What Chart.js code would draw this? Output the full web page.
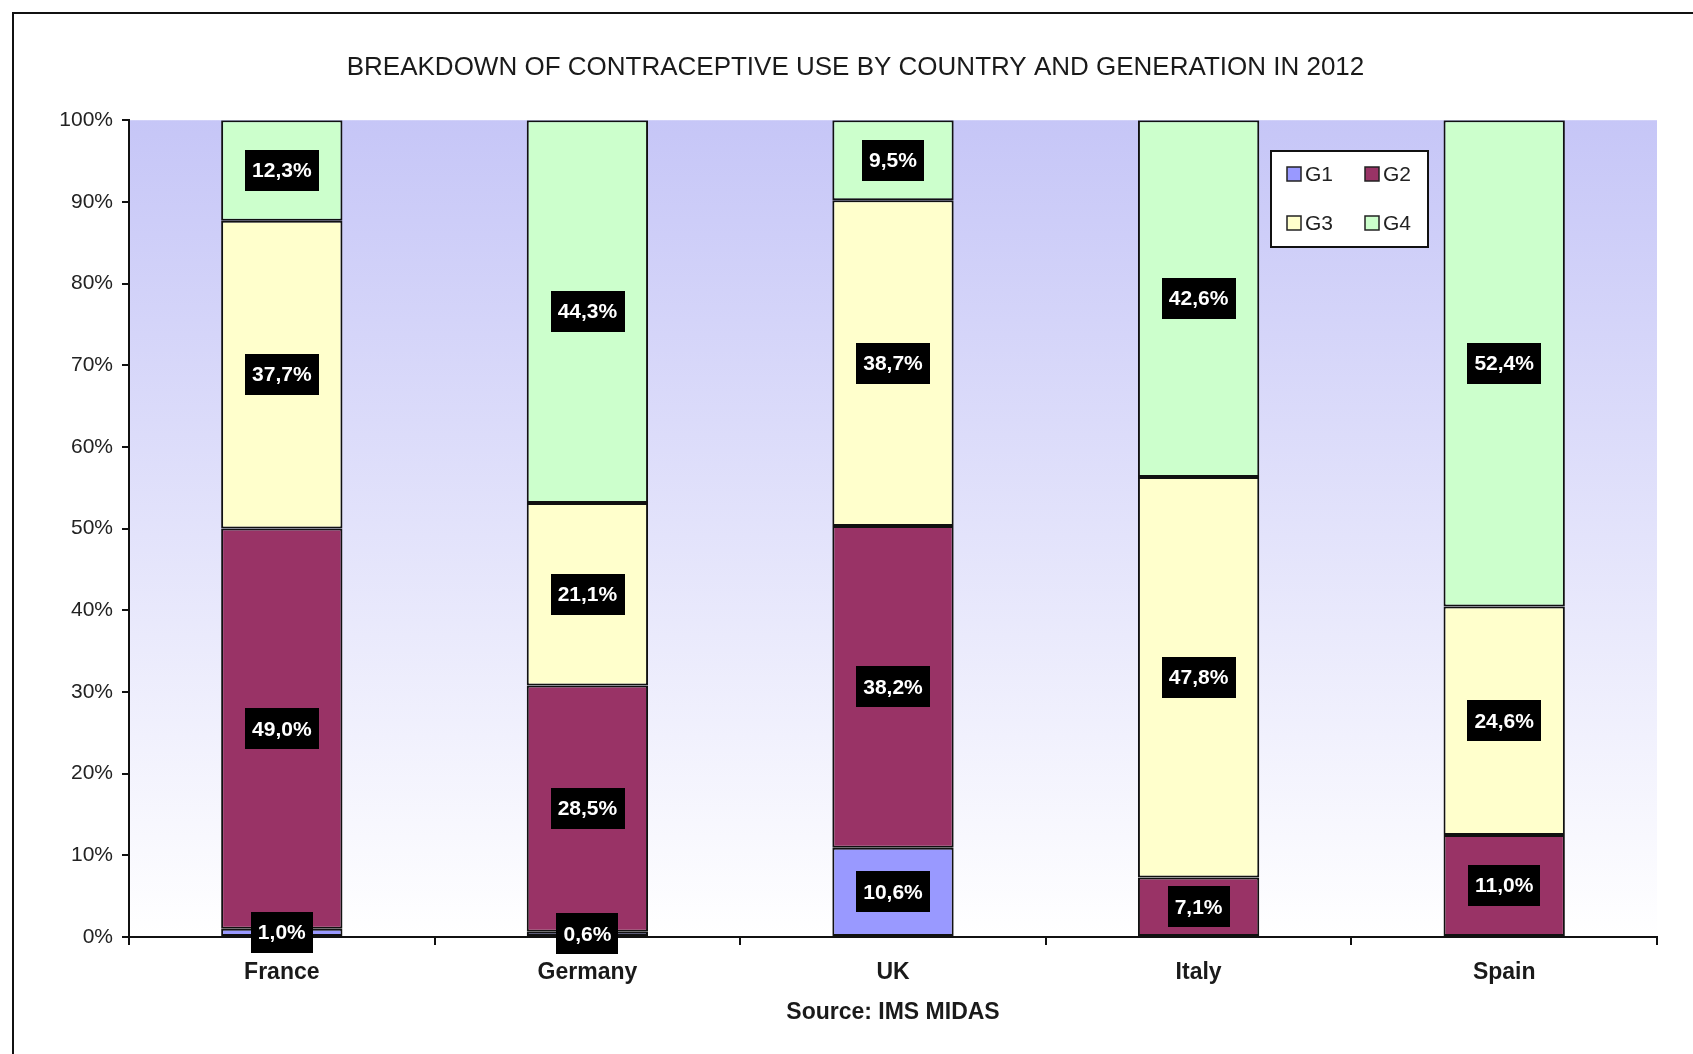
<!DOCTYPE html>
<html>
<head>
<meta charset="utf-8">
<title>Breakdown of contraceptive use 2012</title>
<script src="https://cdn.jsdelivr.net/npm/chart.js@4.4.1/dist/chart.umd.min.js"></script>
<style>
  html, body { margin: 0; padding: 0; background: #fff; overflow: hidden; }
  #chart { display: block; }
</style>
</head>
<body>
<canvas id="chart" width="1693" height="1054"></canvas>
<script>
// data (shares per generation, in %)
const countries = ['France', 'Germany', 'UK', 'Italy', 'Spain'];
const g1 = [1.0, 0.6, 10.6, 0, 0];
const g2 = [49.0, 28.5, 38.2, 7.1, 11.0];
const g3 = [37.7, 21.1, 38.7, 47.8, 24.6];
const g4 = [12.3, 44.3, 9.5, 42.6, 52.4];
const yTickValues = [0, 10, 20, 30, 40, 50, 60, 70, 80, 90, 100];

const FONT = '"Liberation Sans", Arial, sans-serif';

// 100% stacked: each column is scaled to its own total
const totals = countries.map((c, i) => g1[i] + g2[i] + g3[i] + g4[i]);
const share = arr => arr.map((v, i) => v / totals[i] * 100);

function serie(label, raw, color) {
    return {
        label: label,
        data: share(raw),
        raw: raw,
        backgroundColor: color,
        borderColor: '#111',
        borderWidth: 2,
        borderSkipped: false,
        categoryPercentage: 1,
        barPercentage: 0.397
    };
}

// fondo degradado + marco
const background = {
    id: 'background',
    beforeDraw(chart) {
        const { ctx, chartArea: a } = chart;
        ctx.save();
        const grad = ctx.createLinearGradient(0, a.top, 0, a.bottom);
        grad.addColorStop(0, '#c6c6f7');
        grad.addColorStop(1, '#ffffff');
        ctx.fillStyle = grad;
        ctx.fillRect(a.left, a.top, a.right - a.left, a.bottom - a.top);
        ctx.strokeStyle = '#111';
        ctx.lineWidth = 2;
        ctx.beginPath();
        ctx.moveTo(13, chart.height);
        ctx.lineTo(13, 13);
        ctx.lineTo(chart.width, 13);
        ctx.stroke();
        ctx.restore();
    }
};

// black boxes with the values
const valueBoxes = {
    id: 'valueBoxes',
    afterDatasetsDraw(chart) {
        const ctx = chart.ctx;
        ctx.save();
        ctx.font = 'bold 21px ' + FONT;
        ctx.textAlign = 'center';
        ctx.textBaseline = 'middle';
        chart.data.datasets.forEach((ds, di) => {
            chart.getDatasetMeta(di).data.forEach((bar, i) => {
                const v = ds.raw[i];
                if (!v) return;
                const txt = v.toFixed(1).replace('.', ',') + '%';
                const cy = (bar.y + bar.base) / 2;
                const w = ctx.measureText(txt).width + 14;
                const h = 41;
                ctx.fillStyle = '#000';
                ctx.fillRect(Math.round(bar.x - w / 2), Math.round(cy - h / 2), Math.round(w), h);
                ctx.fillStyle = '#fff';
                ctx.fillText(txt, bar.x, cy + 1);
            });
        });
        ctx.restore();
    }
};

// leyenda en caja, 2 x 2
const legendBox = {
    id: 'legendBox',
    afterDraw(chart) {
        const ctx = chart.ctx;
        const x0 = 1271, y0 = 151, w = 157, h = 96;
        ctx.save();
        ctx.fillStyle = '#fff';
        ctx.fillRect(x0, y0, w, h);
        ctx.strokeStyle = '#111';
        ctx.lineWidth = 2;
        ctx.strokeRect(x0, y0, w, h);
        ctx.font = '21px ' + FONT;
        ctx.textBaseline = 'middle';
        chart.data.datasets.forEach((ds, i) => {
            const col = i % 2, row = Math.floor(i / 2);
            const sx = x0 + 16 + col * 78;
            const sy = y0 + 23 + row * 49;
            ctx.fillStyle = ds.backgroundColor;
            ctx.fillRect(sx, sy - 7, 14, 14);
            ctx.lineWidth = 1.5;
            ctx.strokeStyle = '#222';
            ctx.strokeRect(sx, sy - 7, 14, 14);
            ctx.fillStyle = '#222';
            ctx.fillText(ds.label, sx + 18, sy + 1);
        });
        ctx.restore();
    }
};

const ctx = document.getElementById('chart').getContext('2d');
const chart = new Chart(ctx, {
    type: 'bar',
    data: {
        labels: countries,
        datasets: [
            serie('G1', g1, '#9999ff'),
            serie('G2', g2, '#993366'),
            serie('G3', g3, '#ffffcc'),
            serie('G4', g4, '#ccffcc')
        ]
    },
    options: {
        responsive: false,
        animation: false,
        devicePixelRatio: 1,
        layout: { padding: { left: 54, right: 36, top: 0, bottom: 0 } },
        plugins: {
            legend: { display: false },
            tooltip: { enabled: false },
            title: {
                display: true,
                text: 'BREAKDOWN OF CONTRACEPTIVE USE BY COUNTRY AND GENERATION IN 2012',
                color: '#1a1a1a',
                font: { family: FONT, size: 26, weight: 'normal' },
                padding: { top: 52, bottom: 37 }
            }
        },
        scales: {
            x: {
                stacked: true,
                grid: { drawOnChartArea: false, drawTicks: true, tickLength: 8, color: '#111', lineWidth: 2 },
                border: { display: true, color: '#111', width: 2 },
                ticks: { color: '#1a1a1a', padding: 14, font: { family: FONT, size: 23, weight: 'bold' } },
                title: {
                    display: true,
                    text: 'Source: IMS MIDAS',
                    color: '#1a1a1a',
                    font: { family: FONT, size: 23, weight: 'bold' },
                    padding: { top: 0, bottom: 28 }
                },
                afterFit: scale => { scale.height = 117; }
            },
            y: {
                stacked: true,
                min: 0,
                max: 100,
                grid: { drawOnChartArea: false, drawTicks: true, tickLength: 7, color: '#111', lineWidth: 2 },
                border: { display: true, color: '#111', width: 2 },
                afterBuildTicks: scale => { scale.ticks = yTickValues.map(v => ({ value: v })); },
                ticks: {
                    color: '#222',
                    padding: 9,
                    font: { family: FONT, size: 21 },
                    callback: v => v + '%'
                },
                afterFit: scale => { scale.width = 75; }
            }
        }
    },
    plugins: [background, valueBoxes, legendBox]
});
</script>
</body>
</html>
